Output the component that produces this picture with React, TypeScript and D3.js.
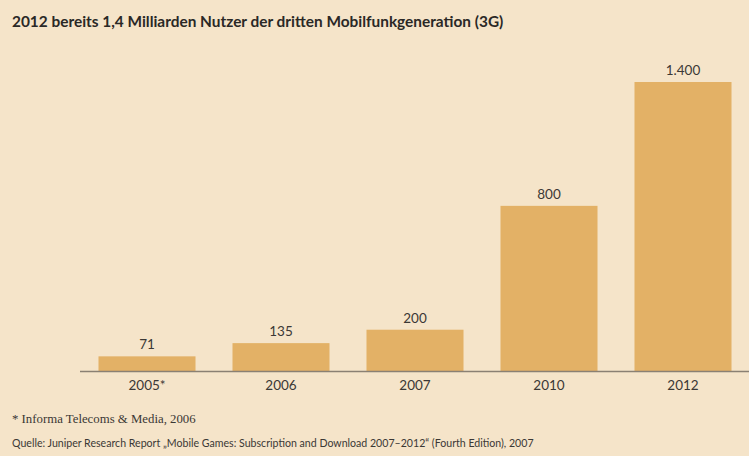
import React from "react";
import * as d3 from "d3";

const categories = ["2005*", "2006", "2007", "2010", "2012"];
const values = [71, 135, 200, 800, 1400];
const valueLabels = ["71", "135", "200", "800", "1.400"];
const title = "2012 bereits 1,4 Milliarden Nutzer der dritten Mobilfunkgeneration (3G)";
const footnote = "* Informa Telecoms & Media, 2006";
const source = "Quelle: Juniper Research Report \u201EMobile Games: Subscription and Download 2007\u20132012\u201C (Fourth Edition), 2007";

const W = 749;
const H = 456;
const baseline = 371;

export default function App() {
  const x = d3.scaleBand<string>().domain(categories).range([80, 750]).paddingInner(0.276).paddingOuter(0.138);
  const y = d3.scaleLinear().domain([0, 1400]).range([baseline, 82]);
  const sans = "Lato, 'Open Sans', sans-serif";
  const textColor = "#3b3835";
  return (
    <svg width={W} height={H} style={{ position: "absolute", left: 0, top: 0, display: "block" }}>
      <rect x={0} y={0} width={W} height={H} fill="#F5E4C9" />
      <text x={12} y={27} fontFamily={sans} fontWeight={700} fontSize={15.4} fill="#2a2826">
        {title}
      </text>
      {categories.map((c, i) => (
        <g key={c}>
          <rect x={x(c)} y={y(values[i])} width={x.bandwidth()} height={baseline - y(values[i])} fill="#E3B166" />
          <text x={x(c)! + x.bandwidth() / 2} y={y(values[i]) - 7} textAnchor="middle" fontFamily={sans} fontSize={13.5} fill={textColor}>
            {valueLabels[i]}
          </text>
          <text x={x(c)! + x.bandwidth() / 2} y={390} textAnchor="middle" fontFamily={sans} fontSize={13.5} fill={textColor}>
            {c}
          </text>
        </g>
      ))}
      <line x1={80} x2={749} y1={baseline + 0.5} y2={baseline + 0.5} stroke="#8a8073" strokeWidth={1.3} />
      <text x={12} y={423} fontFamily="'Liberation Serif', 'DejaVu Serif', serif" fontSize={12.8} fill={textColor}>
        {footnote}
      </text>
      <text x={12} y={447} fontFamily={sans} fontSize={10.6} fill={textColor}>
        {source}
      </text>
    </svg>
  );
}
